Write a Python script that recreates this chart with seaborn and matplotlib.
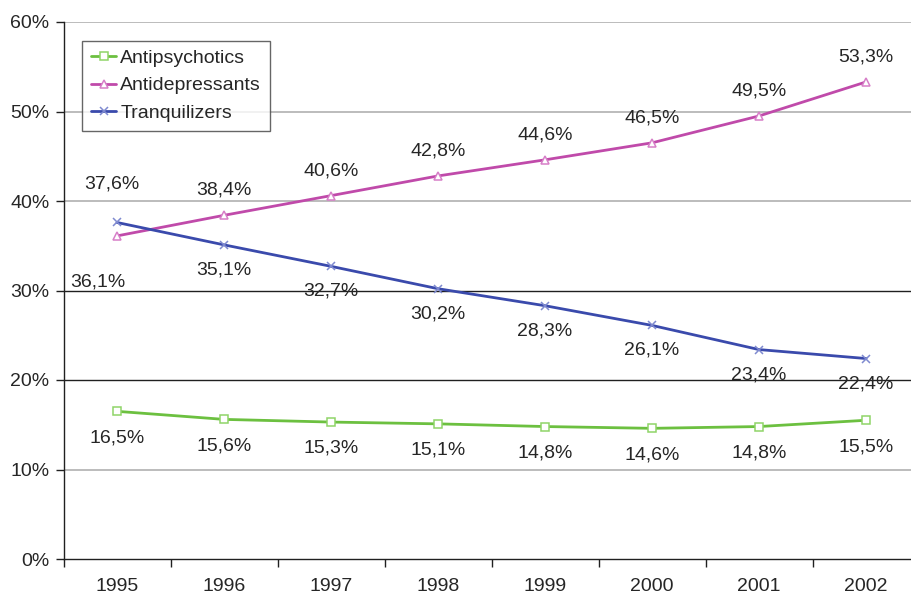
import pandas as pd
import matplotlib
matplotlib.use('Agg')
import matplotlib.pyplot as plt
import seaborn as sns

# Data (share in %)
years = ['1995', '1996', '1997', '1998', '1999', '2000', '2001', '2002']
antipsychotics = [16.5, 15.6, 15.3, 15.1, 14.8, 14.6, 14.8, 15.5]
antidepressants = [36.1, 38.4, 40.6, 42.8, 44.6, 46.5, 49.5, 53.3]
tranquilizers = [37.6, 35.1, 32.7, 30.2, 28.3, 26.1, 23.4, 22.4]

sns.set_theme(style='white')
plt.rcParams['font.family'] = ['Liberation Sans', 'DejaVu Sans']

df = pd.DataFrame({'pos': range(len(years)),
                   'Antipsychotics': antipsychotics,
                   'Antidepressants': antidepressants,
                   'Tranquilizers': tranquilizers})

fig = plt.figure(figsize=(9.11, 6.01), dpi=100)
ax = fig.add_axes([63.5 / 911, 1 - 559 / 601, 856 / 911, 537 / 601])

# gridlines: grey, except 20% and 30% which are black
for v in [10, 40, 50, 60]:
    ax.axhline(v, color='#b0b0b0', lw=1.2, zorder=0)
for v in [20, 30]:
    ax.axhline(v, color='#202020', lw=1.0, zorder=0)

styles = {
    'Antipsychotics': ('#6cc040', '#8fd468', 's'),
    'Antidepressants': ('#c04aaa', '#d77fc8', '^'),
    'Tranquilizers': ('#3a4aac', '#7f8ad0', 'x'),
}
for name, (c, mc, m) in styles.items():
    sns.lineplot(data=df, x='pos', y=name, ax=ax, color=c, lw=2, label=name,
                 marker=m, markersize=6,
                 markerfacecolor='white' if m != 'x' else mc,
                 markeredgecolor=mc, markeredgewidth=1.1, zorder=3)

fs = 14


def pct(v):
    return f'{v:.1f}%'.replace('.', ',')


# labels
for i in range(len(years)):
    if i == 0:
        ax.annotate(pct(antidepressants[i]), (i, antidepressants[i]),
                    xytext=(-14, -33), textcoords='offset points', ha='center', va='center', fontsize=fs)
        ax.annotate(pct(tranquilizers[i]), (i, tranquilizers[i]),
                    xytext=(-4, 28), textcoords='offset points', ha='center', va='center', fontsize=fs)
    else:
        ax.annotate(pct(antidepressants[i]), (i, antidepressants[i]),
                    xytext=(0, 18), textcoords='offset points', ha='center', va='center', fontsize=fs)
        ax.annotate(pct(tranquilizers[i]), (i, tranquilizers[i]),
                    xytext=(0, -18), textcoords='offset points', ha='center', va='center', fontsize=fs)
    ax.annotate(pct(antipsychotics[i]), (i, antipsychotics[i]),
                xytext=(0, -19), textcoords='offset points', ha='center', va='center', fontsize=fs)

ax.set_xlim(-0.5, len(years) - 0.5)
ax.set_ylim(0, 60)
ax.set_xticks([x - 0.5 for x in range(len(years) + 1)])
ax.set_xticklabels([])
ax.set_xticks(range(len(years)), minor=True)
ax.set_xticklabels(years, minor=True, fontsize=fs)
ax.tick_params(axis='x', which='major', direction='out', length=6, width=1, color='#202020', bottom=True)
ax.tick_params(axis='x', which='minor', length=0, pad=14)
ax.set_yticks(range(0, 61, 10))
ax.set_yticklabels([f'{v}%' for v in range(0, 61, 10)], fontsize=fs)
ax.tick_params(axis='y', direction='out', length=6, width=1, color='#202020', left=True, pad=4)
ax.set_xlabel('')
ax.set_ylabel('')

for s in ['top', 'right']:
    ax.spines[s].set_visible(False)
for s in ['left', 'bottom']:
    ax.spines[s].set_color('#202020')
    ax.spines[s].set_linewidth(1.0)

leg = ax.legend(loc='upper left', bbox_to_anchor=(0.022, 0.965), fontsize=fs, frameon=True,
                fancybox=False, edgecolor='#404040', handlelength=1.3, handletextpad=0.2,
                borderpad=0.45, labelspacing=0.5, borderaxespad=0)
leg.get_frame().set_linewidth(1.0)

fig.savefig('out.png', dpi=100)
